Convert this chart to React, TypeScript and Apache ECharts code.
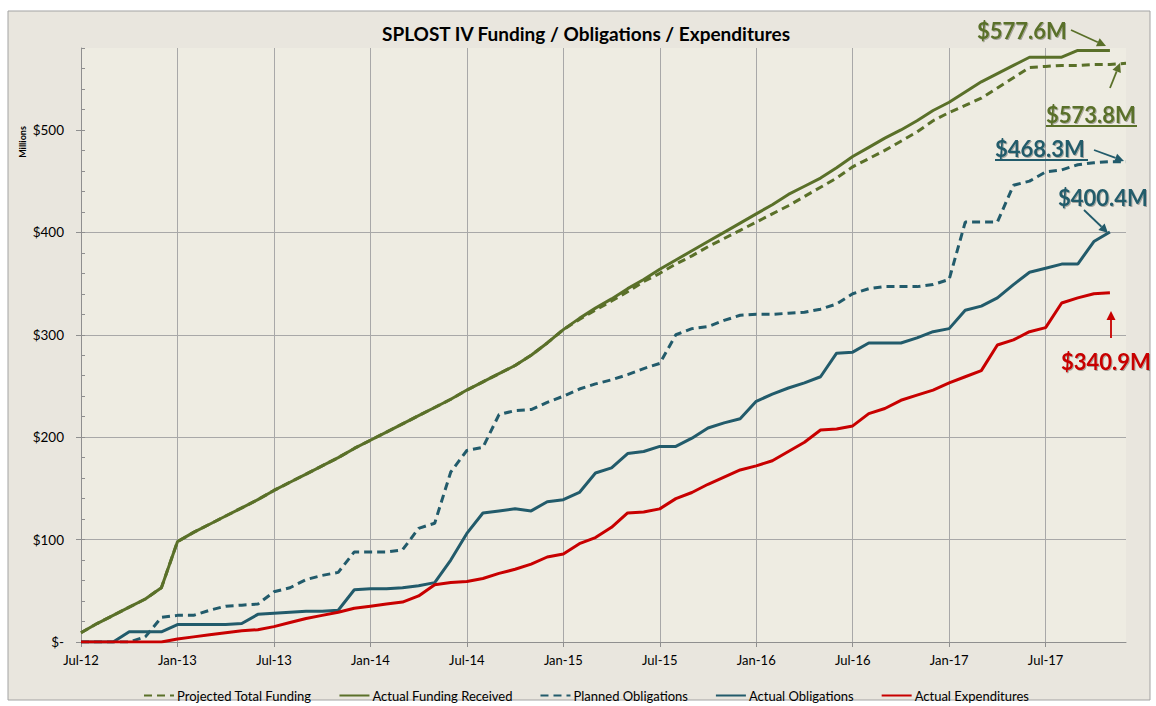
import React, { useEffect, useRef } from "react";
import * as echarts from "echarts";

const months = [
  "Jul-12", "Aug-12", "Sep-12", "Oct-12", "Nov-12", "Dec-12",
  "Jan-13", "Feb-13", "Mar-13", "Apr-13", "May-13", "Jun-13", "Jul-13", "Aug-13", "Sep-13", "Oct-13", "Nov-13", "Dec-13",
  "Jan-14", "Feb-14", "Mar-14", "Apr-14", "May-14", "Jun-14", "Jul-14", "Aug-14", "Sep-14", "Oct-14", "Nov-14", "Dec-14",
  "Jan-15", "Feb-15", "Mar-15", "Apr-15", "May-15", "Jun-15", "Jul-15", "Aug-15", "Sep-15", "Oct-15", "Nov-15", "Dec-15",
  "Jan-16", "Feb-16", "Mar-16", "Apr-16", "May-16", "Jun-16", "Jul-16", "Aug-16", "Sep-16", "Oct-16", "Nov-16", "Dec-16",
  "Jan-17", "Feb-17", "Mar-17", "Apr-17", "May-17", "Jun-17", "Jul-17", "Aug-17", "Sep-17", "Oct-17", "Nov-17", "Dec-17",
];

const projectedFunding = [
  9, 18, 26, 34, 42, 53, 98, 107, 115, 123, 131, 139, 148, 156, 164, 172, 180, 189,
  197, 205, 213, 221, 229, 237, 246, 254, 262, 270, 280, 292,
  305, 315, 324, 333, 342, 352, 360, 369, 377, 386, 394, 402,
  410, 418, 426, 435, 444, 453, 464, 472, 480, 489, 498, 509,
  517, 524, 531, 541, 551, 561, 562, 563, 563, 564, 564, 565,
];

const actualFunding = [
  9, 18, 26, 34, 42, 53, 98, 107, 115, 123, 131, 139, 148, 156, 164, 172, 180, 189,
  197, 205, 213, 221, 229, 237, 246, 254, 262, 270, 280, 292,
  305, 316, 326, 335, 345, 354, 364, 373, 382, 391, 400, 409,
  418, 427, 437, 445, 453, 463, 474, 483, 492, 500, 509, 519,
  527, 537, 547, 555, 563, 571, 571, 571, 577.6, 577.6, 577.6, null,
];

const plannedObligations = [
  0, 0, 0, 0, 5, 24, 26, 26, 31, 35, 36, 37, 49, 53, 61, 65, 68, 88,
  88, 88, 90, 111, 116, 166, 187, 190, 222, 226, 227, 234,
  240, 247, 252, 256, 261, 267, 272, 300, 306, 308, 314, 319,
  320, 320, 321, 322, 325, 330, 340, 345, 347, 347, 347, 349,
  354, 410, 410, 410, 446, 450, 459, 461, 466, 468, 469, 469,
];

const actualObligations = [
  0, 0, 0, 10, 10, 10, 17, 17, 17, 17, 18, 27, 28, 29, 30, 30, 31, 51,
  52, 52, 53, 55, 58, 80, 106, 126, 128, 130, 128, 137,
  139, 146, 165, 170, 184, 186, 191, 191, 199, 209, 214, 218,
  235, 242, 248, 253, 259, 282, 283, 292, 292, 292, 297, 303,
  306, 324, 328, 336, 349, 361, 365, 369, 369, 391, 400.4, null,
];

const actualExpenditures = [
  0, 0, 0, 0, 0, 0, 3, 5, 7, 9, 11, 12, 15, 19, 23, 26, 29, 33,
  35, 37, 39, 45, 56, 58, 59, 62, 67, 71, 76, 83,
  86, 96, 102, 112, 126, 127, 130, 140, 146, 154, 161, 168,
  172, 177, 186, 195, 207, 208, 211, 223, 228, 236, 241, 246,
  253, 259, 265, 290, 295, 303, 307, 331, 336, 340, 340.9, null,
];

const yTicks = [0, 100, 200, 300, 400, 500];
const seriesNames = [
  "Projected Total Funding",
  "Actual Funding Received",
  "Planned Obligations",
  "Actual Obligations",
  "Actual Expenditures",
];

const GREEN = "#5A7029";
const TEAL = "#225B6B";
const RED = "#C80000";
const FONT = "Lato, 'Open Sans', sans-serif";

function arrow(x1: number, y1: number, x2: number, y2: number, color: string) {
  const ang = Math.atan2(y2 - y1, x2 - x1);
  const len = 9;
  const hw = 4.5;
  const bx = x2 - len * Math.cos(ang);
  const by = y2 - len * Math.sin(ang);
  const px = -Math.sin(ang) * hw;
  const py = Math.cos(ang) * hw;
  return [
    {
      type: "line",
      shape: { x1, y1, x2: bx, y2: by },
      style: { stroke: color, lineWidth: 1.8 },
      z: 100,
    },
    {
      type: "polygon",
      shape: { points: [[x2, y2], [bx + px, by + py], [bx - px, by - py]] },
      style: { fill: color },
      z: 100,
    },
  ];
}

function annot(text: string, x: number, y: number, color: string, weight: string, size: number) {
  return {
    type: "text",
    x,
    y,
    z: 100,
    style: {
      text,
      fill: color,
      font: `${weight} ${size}px ${FONT}`,
      textAlign: "left",
      textVerticalAlign: "middle",
      textShadowColor: "rgba(0,0,0,0.3)",
      textShadowOffsetX: 1,
      textShadowOffsetY: 1,
      textShadowBlur: 1,
    },
  };
}

export default function App() {
  const ref = useRef<HTMLDivElement>(null);

  useEffect(() => {
    if (!ref.current) return;
    const chart = echarts.init(ref.current, undefined, { renderer: "svg" });

    const mkLine = (name: string, data: (number | null)[], color: string, dashed: boolean) => ({
      name,
      type: "line",
      data,
      showSymbol: false,
      symbol: "none",
      connectNulls: false,
      lineStyle: { color, width: 3, type: dashed ? [8, 5] : "solid" },
      itemStyle: { color },
      emphasis: { disabled: true },
    });

    chart.setOption({
      animation: false,
      backgroundColor: "#ffffff",
      textStyle: { fontFamily: FONT },
      graphic: [
        {
          type: "rect",
          shape: { x: 8, y: 11, width: 1142, height: 689 },
          style: { fill: "#E9E6DE", stroke: "#A3A3A3", lineWidth: 1 },
          z: -10,
          silent: true,
        },
        {
          type: "text",
          x: 586,
          y: 33,
          style: {
            text: "SPLOST IV Funding / Obligations / Expenditures",
            font: `bold 19px ${FONT}`,
            fill: "#000",
            textAlign: "center",
            textVerticalAlign: "middle",
          },
        },
        {
          type: "text",
          x: 22,
          y: 142,
          rotation: Math.PI / 2,
          style: {
            text: "Millions",
            font: `bold 9px ${FONT}`,
            fill: "#000",
            textAlign: "center",
            textVerticalAlign: "middle",
          },
        },
        annot("$577.6M", 977, 30, GREEN, "bold", 22),
        ...arrow(1071, 30, 1106, 46, GREEN),
        annot("$573.8M", 1046, 114, GREEN, "bold", 22),
        { type: "line", shape: { x1: 1046, y1: 126, x2: 1137, y2: 126 }, style: { stroke: GREEN, lineWidth: 2 }, z: 100 },
        ...arrow(1110, 88, 1120, 63, GREEN),
        annot("$468.3M", 995, 148, TEAL, "bold", 22),
        { type: "line", shape: { x1: 995, y1: 160, x2: 1088, y2: 160 }, style: { stroke: TEAL, lineWidth: 2 }, z: 100 },
        ...arrow(1094, 150, 1124, 161, TEAL),
        annot("$400.4M", 1058, 197, TEAL, "bold", 22),
        ...arrow(1084, 210, 1108, 233, TEAL),
        annot("$340.9M", 1061, 361, RED, "bold", 22),
        ...arrow(1111, 338, 1111, 311, RED),
      ],
      grid: {
        left: 81,
        right: 30,
        top: 48,
        bottom: 64,
        show: true,
        backgroundColor: "#EEECE2",
        borderWidth: 0,
      },
      legend: {
        data: seriesNames,
        left: 138,
        top: 684,
        itemGap: 27,
        itemWidth: 30,
        itemHeight: 12,
        itemStyle: { opacity: 0 },
        textStyle: { fontSize: 13, color: "#000", fontFamily: FONT, padding: [0, 0, 0, -2] },
        selectedMode: false,
      },
      xAxis: {
        type: "category",
        data: months,
        boundaryGap: false,
        axisLine: { show: true, lineStyle: { color: "#8F8F8F", width: 1 } },
        axisTick: { show: true, interval: 5, length: 5, lineStyle: { color: "#8F8F8F" } },
        axisLabel: { interval: 5, fontSize: 13, color: "#000", margin: 11, fontFamily: FONT },
        splitLine: { show: true, interval: 5, lineStyle: { color: "#A8A8A8", width: 1 } },
      },
      yAxis: [
        {
          type: "value",
          min: 0,
          max: 580,
          interval: 100,
          axisLine: { show: true, lineStyle: { color: "#8F8F8F", width: 1 } },
          axisTick: { show: true, length: 5, lineStyle: { color: "#8F8F8F" }, customValues: yTicks },
          axisLabel: {
            fontSize: 13.5,
            color: "#000",
            margin: 17,
            fontFamily: FONT,
            customValues: yTicks,
            formatter: (v: number) => (v === 0 ? "$-" : "$" + v),
          },
          splitLine: { show: true, showMaxLine: false, lineStyle: { color: "#A8A8A8", width: 1 } },
        },
        {
          type: "value",
          min: 0,
          max: 580,
          interval: 20,
          position: "left",
          axisLine: { show: false },
          axisTick: { show: true, inside: true, length: 4, lineStyle: { color: "#8F8F8F" } },
          axisLabel: { show: false },
          splitLine: { show: false },
        },
      ],
      series: [
        mkLine(seriesNames[0], projectedFunding, GREEN, true),
        mkLine(seriesNames[1], actualFunding, GREEN, false),
        mkLine(seriesNames[2], plannedObligations, TEAL, true),
        mkLine(seriesNames[3], actualObligations, TEAL, false),
        mkLine(seriesNames[4], actualExpenditures, RED, false),
      ],
    });

    return () => chart.dispose();
  }, []);

  return (
    <div
      ref={ref}
      style={{ position: "absolute", left: 0, top: 0, width: 1156, height: 706 }}
    />
  );
}
